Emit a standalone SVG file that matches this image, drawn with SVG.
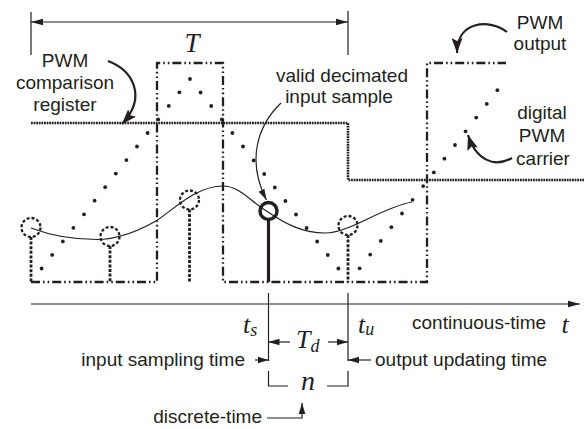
<svg xmlns="http://www.w3.org/2000/svg" width="584" height="429" viewBox="0 0 584 429">
  <style>
    .lbl { font-family: "Liberation Sans", Arial, sans-serif; font-size: 19px; fill: #231f20; }
    .math { font-family: "Liberation Serif", "Times New Roman", serif; font-style: italic; font-size: 26px; fill: #231f20; }
    .sub { font-size: 18px; }
    .thin { fill: none; stroke: #231f20; stroke-width: 1.2; }
    .curvearrow { fill: none; stroke: #231f20; stroke-width: 2.2; }
    .pwm { fill: none; stroke: #231f20; stroke-width: 2.3; stroke-dasharray: 9 3 1.6 3 1.6 3; }
    .reg { fill: none; stroke: #231f20; stroke-width: 2.6; stroke-dasharray: 1.8 0.8; }
    .signal { fill: none; stroke: #231f20; stroke-width: 1.2; }
    .stem { fill: none; stroke: #231f20; stroke-width: 2.8; stroke-dasharray: 3 1.6; }
    .ring { fill: none; stroke: #231f20; stroke-width: 2.3; stroke-dasharray: 3 2; }
    .valid { fill: none; stroke: #231f20; stroke-width: 3.4; }
    .carrier circle { fill: #231f20; }
  </style>
  <defs>
    <marker id="ah" markerUnits="userSpaceOnUse" markerWidth="12" markerHeight="8" refX="12" refY="4" orient="auto-start-reverse">
      <path d="M0,0.8 L12,4 L0,7.2 z" fill="#231f20"/>
    </marker>
    <marker id="ahs" markerUnits="userSpaceOnUse" markerWidth="11" markerHeight="8" refX="11" refY="4" orient="auto">
      <path d="M0,0.7 L11,4 L0,7.3 z" fill="#231f20"/>
    </marker>
    <marker id="ahb" markerUnits="userSpaceOnUse" markerWidth="15" markerHeight="11" refX="15" refY="5.5" orient="auto">
      <path d="M0,0 L15,5.5 L0,11 L3,5.5 z" fill="#231f20"/>
    </marker>
  </defs>

  <!-- period bracket T -->
  <g id="period">
    <line class="thin" x1="31" y1="12" x2="31" y2="55"/>
    <line class="thin" x1="348" y1="11" x2="348" y2="55"/>
    <line class="thin" x1="31" y1="22" x2="348" y2="22" marker-start="url(#ah)" marker-end="url(#ah)"/>
    <text class="math" x="192" y="52" text-anchor="middle" style="font-size:27px">T</text>
  </g>

  <!-- comparison register level -->
  <g id="register">
    <path class="reg" d="M31,123 H348 V180 H584"/>
  </g>

  <!-- PWM output waveform -->
  <g id="pwm-output">
    <path class="pwm" d="M31,282 H157 V63 H223 V282 H427 V63 H506"/>
  </g>

  <!-- digital PWM carrier (counter samples) -->
  <g id="carrier" class="carrier">
    <circle cx="41.6" cy="268.5" r="1.9"/><circle cx="52.2" cy="254.9" r="1.9"/>
    <circle cx="62.8" cy="241.4" r="1.9"/><circle cx="73.4" cy="227.8" r="1.9"/>
    <circle cx="84" cy="214.3" r="1.9"/><circle cx="94.6" cy="200.7" r="1.9"/>
    <circle cx="105.2" cy="187.2" r="1.9"/><circle cx="115.8" cy="173.6" r="1.9"/>
    <circle cx="126.4" cy="160.1" r="1.9"/><circle cx="137" cy="146.5" r="1.9"/>
    <circle cx="147.6" cy="133" r="1.9"/><circle cx="158.2" cy="119.4" r="1.9"/>
    <circle cx="168.8" cy="105.9" r="1.9"/><circle cx="179.4" cy="92.3" r="1.9"/>
    <circle cx="190" cy="79" r="1.9"/>
    <circle cx="200.6" cy="92.5" r="1.9"/><circle cx="211.2" cy="106" r="1.9"/>
    <circle cx="221.8" cy="119.5" r="1.9"/><circle cx="232.4" cy="133" r="1.9"/>
    <circle cx="243" cy="146.5" r="1.9"/><circle cx="253.6" cy="160.5" r="1.9"/>
    <circle cx="264.2" cy="174" r="1.9"/><circle cx="274.8" cy="187.5" r="1.9"/>
    <circle cx="285.4" cy="201" r="1.9"/><circle cx="296" cy="214.5" r="1.9"/>
    <circle cx="306.6" cy="228" r="1.9"/><circle cx="317.2" cy="241.5" r="1.9"/>
    <circle cx="327.8" cy="255" r="1.9"/><circle cx="338.4" cy="268.5" r="1.9"/>
    <circle cx="359.6" cy="268.3" r="1.9"/><circle cx="370.2" cy="254.6" r="1.9"/>
    <circle cx="380.8" cy="240.9" r="1.9"/><circle cx="391.4" cy="227.2" r="1.9"/>
    <circle cx="402" cy="213.5" r="1.9"/><circle cx="412.6" cy="199.8" r="1.9"/>
    <circle cx="423.2" cy="186.1" r="1.9"/><circle cx="433.8" cy="172.4" r="1.9"/>
    <circle cx="444.4" cy="158.7" r="1.9"/><circle cx="455" cy="145" r="1.9"/>
    <circle cx="465.6" cy="131.3" r="1.9"/><circle cx="476.2" cy="117.6" r="1.9"/>
    <circle cx="486.8" cy="103.9" r="1.9"/><circle cx="497.4" cy="90.2" r="1.9"/>
  </g>

  <!-- continuous input signal -->
  <g id="input-signal">
    <path class="signal" d="M31,228 C52,236 75,239.5 97,239.5 C120,239.5 140,230 156,221 C172,211 195,186 223,186 C240,186 252,203 268,212 C284,223 302,233 325,233 C350,233 380,208 412,202"/>
  </g>

  <!-- sampled input values -->
  <g id="samples">
    <circle class="ring" cx="31" cy="227.5" r="9.5"/>
    <line class="stem" x1="31" y1="237" x2="31" y2="282"/>
    <circle class="ring" cx="110" cy="236.5" r="9.5"/>
    <line class="stem" x1="110" y1="246" x2="110" y2="282"/>
    <circle class="ring" cx="189.5" cy="200" r="9.5"/>
    <line class="stem" x1="189.5" y1="209.5" x2="189.5" y2="282"/>
    <circle class="ring" cx="348" cy="225.5" r="9.5"/>
    <line class="stem" x1="348" y1="235" x2="348" y2="282"/>
  </g>

  <!-- valid decimated sample -->
  <g id="valid-sample">
    <circle class="valid" cx="268.5" cy="211" r="8.5"/>
    <line x1="268.5" y1="219.5" x2="268.5" y2="282" stroke="#231f20" stroke-width="3.2"/>
  </g>

  <!-- time axis -->
  <g id="time-axis">
    <line class="thin" x1="31" y1="304" x2="580" y2="304" marker-end="url(#ah)"/>
    <text class="lbl" x="412" y="329">continuous-time</text>
    <text class="math" x="565" y="333" text-anchor="middle">t</text>
  </g>

  <!-- sampling / updating instants -->
  <g id="instants">
    <line class="thin" x1="268.5" y1="293" x2="268.5" y2="361"/>
    <line class="thin" x1="348" y1="293" x2="348" y2="361"/>
    <text class="math" x="243" y="333">t<tspan class="sub" dy="3">s</tspan></text>
    <text class="math" x="358" y="333">t<tspan class="sub" dy="2">u</tspan></text>
    <line class="thin" x1="290" y1="342" x2="268.5" y2="342" marker-end="url(#ahs)"/>
    <line class="thin" x1="328" y1="342" x2="348" y2="342" marker-end="url(#ahs)"/>
    <text class="math" x="296" y="348">T<tspan class="sub" dy="4">d</tspan></text>
    <line class="thin" x1="255" y1="360" x2="268.5" y2="360" marker-end="url(#ahs)"/>
    <text class="lbl" x="245" y="366" text-anchor="end">input sampling time</text>
    <line class="thin" x1="371" y1="360" x2="348" y2="360" marker-end="url(#ahs)"/>
    <text class="lbl" x="375" y="366">output updating time</text>
  </g>

  <!-- discrete-time step n -->
  <g id="discrete">
    <path class="thin" d="M268.5,371 V386 H288"/>
    <path class="thin" d="M348,371 V386 H327"/>
    <text class="math" x="308" y="390" text-anchor="middle" style="font-size:28px">n</text>
    <path class="thin" d="M267,418 H302 V403" marker-end="url(#ahs)"/>
    <text class="lbl" x="262" y="423" text-anchor="end">discrete-time</text>
  </g>

  <!-- annotation labels -->
  <g id="label-register">
    <text class="lbl" x="65" y="67" text-anchor="middle">PWM</text>
    <text class="lbl" x="65" y="89" text-anchor="middle">comparison</text>
    <text class="lbl" x="65" y="111" text-anchor="middle">register</text>
  </g>
  <g id="label-valid">
    <text class="lbl" x="342" y="82" text-anchor="middle">valid decimated</text>
    <text class="lbl" x="339" y="103" text-anchor="middle">input sample</text>
  </g>
  <g id="label-output">
    <text class="lbl" x="540" y="29" text-anchor="middle">PWM</text>
    <text class="lbl" x="540" y="50" text-anchor="middle">output</text>
  </g>
  <g id="label-carrier">
    <text class="lbl" x="542" y="119" text-anchor="middle">digital</text>
    <text class="lbl" x="542" y="142" text-anchor="middle">PWM</text>
    <text class="lbl" x="543" y="165" text-anchor="middle">carrier</text>
  </g>

  <!-- annotation connectors -->
  <g id="connectors">
    <path class="curvearrow" d="M108,61 C132,70 148,96 122,124" marker-end="url(#ahb)"/>
    <path class="thin" d="M281,103 C258,125 246,160 266.5,200" marker-end="url(#ahs)"/>
    <path class="curvearrow" d="M507,32 C490,19 457,20 457,53" marker-end="url(#ahb)"/>
    <path class="curvearrow" d="M512,158 C494,168 476,160 468,135" marker-end="url(#ahb)"/>
  </g>
</svg>
